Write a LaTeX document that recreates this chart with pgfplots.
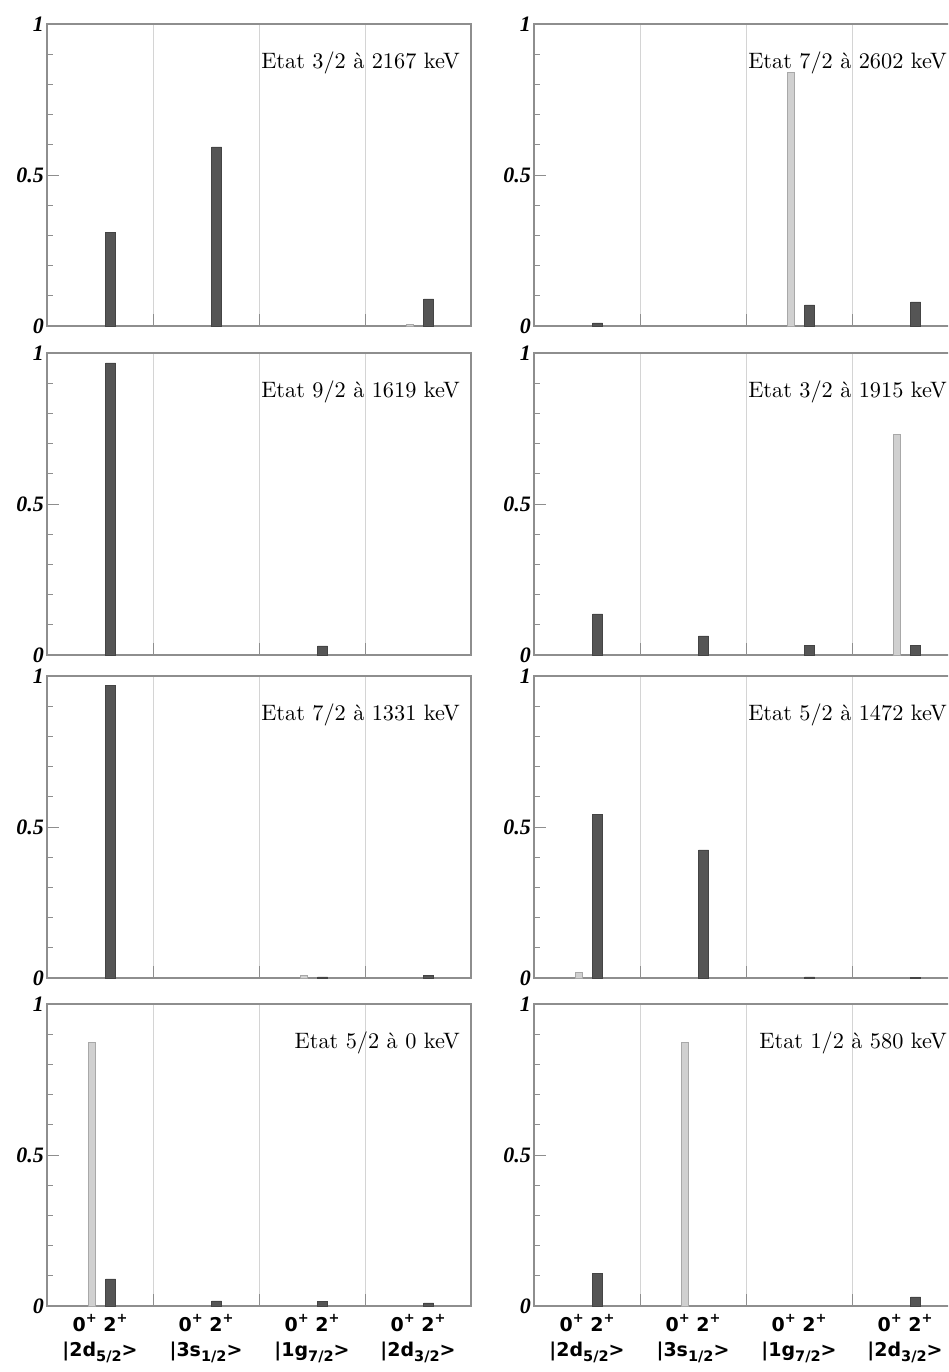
\documentclass[border=0pt]{standalone}
\usepackage{fontspec}
\usepackage{pgfplots}
\pgfplotsset{compat=1.18}
\newfontfamily\tickfont{Liberation Serif}
\newfontfamily\catfont{DejaVu Sans}
\newfontfamily\titlefont{lmroman10-regular}[Extension=.otf]
\newcommand\catsub[1]{\raisebox{-0.3em}{\fontsize{14.5}{14.5}\selectfont #1}}
\newcommand\catsup{\raisebox{0.45em}{\fontsize{13}{13}\selectfont +}}
\definecolor{darkbar}{HTML}{555555}
\definecolor{darkedge}{HTML}{444444}
\definecolor{lightbar}{HTML}{D0D0D0}
\definecolor{lightedge}{HTML}{A8A8A8}
\definecolor{framegray}{HTML}{8E8E8E}
\definecolor{sepgray}{HTML}{D4D4D4}
\tikzset{ptitle/.style={anchor=base east, inner sep=0pt, font=\fontsize{22.3}{22.3}\titlefont}}
\pgfplotsset{
  panel/.style={
    scale only axis, width=424pt, height=302pt,
    xmin=0, xmax=4, ymin=0, ymax=1,
    axis line style={framegray, line width=1.4pt},
    xtick={1,2,3}, xticklabels={,,},
    xmajorgrids, grid style={sepgray, line width=0.9pt},
    ytick={0,0.5,1}, yticklabels={0,0.5,1}, minor y tick num=4,
    tick align=inside, xtick pos=bottom, ytick pos=left,
    tick style={framegray, line width=0.9pt},
    major tick length=12pt, minor tick length=6pt,
    yticklabel style={font=\fontsize{22}{22}\tickfont\bfseries\itshape, inner xsep=3pt},
    extra x ticks={0.5,1.5,2.5,3.5},
    extra x tick style={grid=none, major tick length=0pt,
      xticklabel style={font=\fontsize{19}{25}\catfont\bfseries, align=center, yshift=-5pt}},
    extra x tick labels={,,,},
  },
  bottompanel/.style={
    extra x tick labels={
      {0\catsup\ 2\catsup\\|2d\catsub{5/2}>},
      {0\catsup\ 2\catsup\\|3s\catsub{1/2}>},
      {0\catsup\ 2\catsup\\|1g\catsub{7/2}>},
      {0\catsup\ 2\catsup\\|2d\catsub{3/2}>}},
  },
  zeroplus/.style={ybar, bar shift=0pt, bar width=0.07, fill=lightbar, draw=lightedge, line width=0.6pt},
  twoplus/.style={ybar, bar shift=0pt, bar width=0.095, fill=darkbar, draw=darkedge, line width=0.6pt},
}
\begin{document}
\begin{tikzpicture}
\useasboundingbox (0,0) rectangle (948pt,-1372pt);
\clip (0,0) rectangle (948pt,-1372pt);
% ---------- row 1 ----------
\begin{axis}[panel, at={(47pt,-326pt)}]
  \addplot[zeroplus] coordinates {(3.42,0.004)};
  \addplot[twoplus] coordinates {(0.6,0.31) (1.6,0.593) (3.6,0.09)};
  \node[ptitle] at (rel axis cs:0.974,0.854) {Etat 3/2 à 2167 keV};
\end{axis}
\begin{axis}[panel, at={(534pt,-326pt)}]
  \addplot[zeroplus] coordinates {(2.42,0.84)};
  \addplot[twoplus] coordinates {(0.6,0.01) (2.6,0.07) (3.6,0.08)};
  \node[ptitle] at (rel axis cs:0.974,0.854) {Etat 7/2 à 2602 keV};
\end{axis}
% ---------- row 2 ----------
\begin{axis}[panel, at={(47pt,-655pt)}]
  \addplot[twoplus] coordinates {(0.6,0.967) (2.6,0.03)};
  \node[ptitle] at (rel axis cs:0.974,0.854) {Etat 9/2 à 1619 keV};
\end{axis}
\begin{axis}[panel, at={(534pt,-655pt)}]
  \addplot[zeroplus] coordinates {(3.42,0.732)};
  \addplot[twoplus] coordinates {(0.6,0.136) (1.6,0.063) (2.6,0.033) (3.6,0.033)};
  \node[ptitle] at (rel axis cs:0.974,0.854) {Etat 3/2 à 1915 keV};
\end{axis}
% ---------- row 3 ----------
\begin{axis}[panel, at={(47pt,-978pt)}]
  \addplot[zeroplus] coordinates {(2.42,0.01)};
  \addplot[twoplus] coordinates {(0.6,0.97) (2.6,0.004) (3.6,0.008)};
  \node[ptitle] at (rel axis cs:0.974,0.854) {Etat 7/2 à 1331 keV};
\end{axis}
\begin{axis}[panel, at={(534pt,-978pt)}]
  \addplot[zeroplus] coordinates {(0.42,0.02)};
  \addplot[twoplus] coordinates {(0.6,0.543) (1.6,0.424) (2.6,0.004) (3.6,0.003)};
  \node[ptitle] at (rel axis cs:0.974,0.854) {Etat 5/2 à 1472 keV};
\end{axis}
% ---------- row 4 ----------
\begin{axis}[panel, bottompanel, at={(47pt,-1306pt)}]
  \addplot[zeroplus] coordinates {(0.42,0.873)};
  \addplot[twoplus] coordinates {(0.6,0.09) (1.6,0.017) (2.6,0.015) (3.6,0.01)};
  \node[ptitle] at (rel axis cs:0.974,0.854) {Etat 5/2 à 0 keV};
\end{axis}
\begin{axis}[panel, bottompanel, at={(534pt,-1306pt)}]
  \addplot[zeroplus] coordinates {(1.42,0.873)};
  \addplot[twoplus] coordinates {(0.6,0.107) (3.6,0.03)};
  \node[ptitle] at (rel axis cs:0.974,0.854) {Etat 1/2 à 580 keV};
\end{axis}
\end{tikzpicture}
\end{document}
